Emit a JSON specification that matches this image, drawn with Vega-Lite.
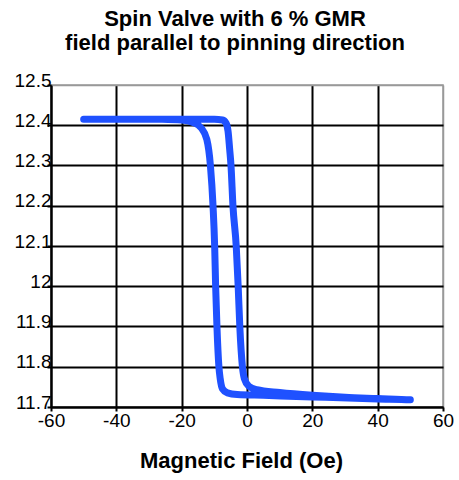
{
  "$schema": "https://vega.github.io/schema/vega-lite/v6.json",
  "autosize": "none",
  "width": 392,
  "height": 322,
  "padding": {"left": 51, "top": 85, "right": 16, "bottom": 73},
  "background": "white",
  "title": {
    "text": ["Spin Valve with 6 % GMR", "field parallel to pinning direction"],
    "font": "Liberation Sans",
    "fontSize": 22,
    "fontWeight": "bold",
    "color": "black",
    "lineHeight": 24,
    "anchor": "middle",
    "dx": -12,
    "offset": 16
  },
  "config": {
    "view": {"stroke": "#999999", "strokeWidth": 1.5},
    "axis": {
      "labelFont": "Liberation Sans",
      "labelFontSize": 19,
      "labelColor": "black",
      "titleFont": "Liberation Sans",
      "titleColor": "black",
      "domainColor": "black",
      "domainWidth": 2,
      "tickColor": "black",
      "tickWidth": 2,
      "tickSize": 4,
      "gridWidth": 2
    }
  },
  "data": {
    "values": [
      {"o": 1, "h": -50, "r": 12.415},
      {"o": 2, "h": -30, "r": 12.415},
      {"o": 3, "h": -20, "r": 12.415},
      {"o": 4, "h": -10, "r": 12.415},
      {"o": 5, "h": -7.5, "r": 12.413},
      {"o": 6, "h": -6.4, "r": 12.405},
      {"o": 7, "h": -5.8, "r": 12.385},
      {"o": 8, "h": -5.3, "r": 12.34},
      {"o": 9, "h": -4.9, "r": 12.3},
      {"o": 10, "h": -4.3, "r": 12.2},
      {"o": 11, "h": -3.3, "r": 12.1},
      {"o": 12, "h": -2.7, "r": 12.0},
      {"o": 13, "h": -2.2, "r": 11.9},
      {"o": 14, "h": -1.4, "r": 11.8},
      {"o": 15, "h": -0.8, "r": 11.77},
      {"o": 16, "h": 0.5, "r": 11.752},
      {"o": 17, "h": 3, "r": 11.743},
      {"o": 18, "h": 10, "r": 11.736},
      {"o": 19, "h": 20, "r": 11.729},
      {"o": 20, "h": 30, "r": 11.724},
      {"o": 21, "h": 40, "r": 11.721},
      {"o": 22, "h": 50, "r": 11.718},
      {"o": 23, "h": 40, "r": 11.72},
      {"o": 24, "h": 20, "r": 11.725},
      {"o": 25, "h": 5, "r": 11.729},
      {"o": 26, "h": -3, "r": 11.731},
      {"o": 27, "h": -6, "r": 11.735},
      {"o": 28, "h": -7.5, "r": 11.745},
      {"o": 29, "h": -8.2, "r": 11.77},
      {"o": 30, "h": -8.6, "r": 11.8},
      {"o": 31, "h": -9.2, "r": 11.9},
      {"o": 32, "h": -9.6, "r": 12.0},
      {"o": 33, "h": -9.9, "r": 12.1},
      {"o": 34, "h": -10.4, "r": 12.2},
      {"o": 35, "h": -11.2, "r": 12.3},
      {"o": 36, "h": -12.3, "r": 12.365},
      {"o": 37, "h": -14, "r": 12.393},
      {"o": 38, "h": -16.5, "r": 12.407},
      {"o": 39, "h": -20, "r": 12.413},
      {"o": 40, "h": -26, "r": 12.415}
    ]
  },
  "mark": {
    "type": "line",
    "color": "#1f51ff",
    "strokeWidth": 7,
    "strokeCap": "round",
    "strokeJoin": "round",
    "interpolate": "monotone"
  },
  "encoding": {
    "x": {
      "field": "h",
      "type": "quantitative",
      "scale": {"domain": [-60, 60], "nice": false},
      "axis": {
        "values": [-60, -40, -20, 0, 20, 40, 60],
        "labelExpr": "datum.value < 0 ? '-' + abs(datum.value) : '' + datum.value",
        "title": "Magnetic Field (Oe)",
        "titleFontSize": 22,
        "titleFontWeight": "bold",
        "titlePadding": 20,
        "titleX": 190,
        "labelPadding": 0,
        "labelFlush": false,
        "gridColor": {"condition": {"test": "datum.value == 60", "value": "#999999"}, "value": "black"},
        "gridWidth": {"condition": {"test": "datum.value == 60", "value": 1.5}, "value": 2}
      }
    },
    "y": {
      "field": "r",
      "type": "quantitative",
      "scale": {"domain": [11.7, 12.5], "nice": false, "zero": false},
      "axis": {
        "values": [11.7, 11.8, 11.9, 12, 12.1, 12.2, 12.3, 12.4, 12.5],
        "format": ".1~f",
        "title": null,
        "labelPadding": -4,
        "labelBaseline": "alphabetic",
        "labelOffset": 1,
        "labelFlush": false,
        "gridColor": {"condition": {"test": "datum.value == 12.5", "value": "#999999"}, "value": "black"},
        "gridWidth": {"condition": {"test": "datum.value == 12.5", "value": 1.5}, "value": 2}
      }
    },
    "order": {"field": "o", "type": "quantitative"}
  }
}
